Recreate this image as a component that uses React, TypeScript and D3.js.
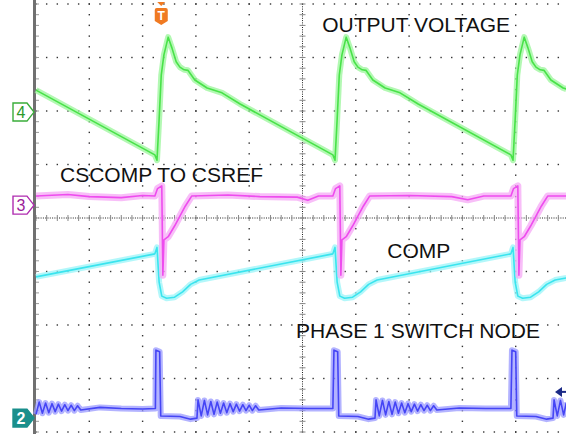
import React, { useEffect, useRef } from 'react';
import * as d3 from 'd3';

// scope screen: 10 x 8 divisions, points are [time div, level div]
const outputVoltage = [
  [0, 2.39], [2.23, 1.18], [2.27, 1.08], [2.31, 1.84], [2.35, 2.67], [2.40, 3.05], [2.48, 3.38],
  [2.55, 3.18], [2.63, 2.92], [2.70, 2.82], [2.78, 2.77], [2.85, 2.76], [2.98, 2.58], [3.21, 2.43],
  [3.49, 2.34], [3.83, 2.13], [5.57, 1.18], [5.61, 1.08], [5.65, 1.84], [5.69, 2.67], [5.74, 3.05],
  [5.82, 3.38], [5.89, 3.18], [5.97, 2.92], [6.04, 2.82], [6.12, 2.77], [6.19, 2.76], [6.32, 2.58],
  [6.55, 2.43], [6.83, 2.34], [7.17, 2.13], [8.91, 1.18], [8.95, 1.08], [8.99, 1.84], [9.03, 2.67],
  [9.08, 3.05], [9.16, 3.38], [9.23, 3.18], [9.31, 2.92], [9.38, 2.82], [9.46, 2.77], [9.53, 2.76],
  [9.66, 2.58], [9.89, 2.43], [9.95, 2.41],
];

const csCompToCsRef = [
  [0, 0.41], [0.6, 0.44], [1.0, 0.40], [1.6, 0.38], [2.0, 0.42], [2.23, 0.41], [2.28, 0.55],
  [2.36, 0.60], [2.38, -1.07], [2.40, -0.41], [2.48, -0.35], [2.60, -0.15],
  [2.80, 0.22], [2.92, 0.41], [3.6, 0.43], [4.2, 0.40], [4.9, 0.39], [5.1, 0.33], [5.3, 0.41],
  [5.57, 0.41], [5.62, 0.55], [5.70, 0.60], [5.72, -1.07], [5.74, -0.41],
  [5.82, -0.35], [5.94, -0.15], [6.14, 0.22], [6.26, 0.41], [7.0, 0.42], [7.8, 0.40], [8.1, 0.34],
  [8.4, 0.41], [8.91, 0.41], [8.96, 0.55], [9.04, 0.60], [9.06, -1.07], [9.08, -0.41],
  [9.16, -0.35], [9.28, -0.15], [9.48, 0.22], [9.60, 0.41], [9.95, 0.41],
];

const compVoltage = [
  [0, -1.10], [2.23, -0.67], [2.27, -0.55], [2.31, -1.20], [2.36, -1.46], [2.45, -1.50],
  [2.60, -1.48], [2.75, -1.38], [2.90, -1.24], [3.06, -1.16], [5.57, -0.67], [5.61, -0.55],
  [5.65, -1.20], [5.70, -1.46], [5.79, -1.50], [5.94, -1.48], [6.09, -1.38], [6.24, -1.24],
  [6.40, -1.16], [8.91, -0.67], [8.95, -0.55], [8.99, -1.20], [9.04, -1.46], [9.13, -1.50],
  [9.28, -1.48], [9.43, -1.38], [9.58, -1.24], [9.74, -1.16], [9.95, -1.12],
];

const phase1SwitchNode = [
  [0.00, -3.67], [0.06, -3.44], [0.12, -3.65], [0.18, -3.46], [0.24, -3.64], [0.30, -3.47],
  [0.36, -3.62], [0.42, -3.48], [0.48, -3.61], [0.54, -3.49], [0.60, -3.60], [0.66, -3.50],
  [0.72, -3.60], [0.78, -3.51], [0.84, -3.59], [1.20, -3.54], [1.60, -3.56], [2.00, -3.57],
  [2.24, -3.56], [2.25, -2.47], [2.32, -2.50], [2.34, -3.70], [2.70, -3.71], [2.90, -3.76],
  [3.02, -3.74], [3.04, -3.40], [3.10, -3.70], [3.16, -3.41], [3.22, -3.68], [3.28, -3.43],
  [3.34, -3.67], [3.40, -3.44], [3.46, -3.65], [3.52, -3.46], [3.58, -3.64], [3.64, -3.47],
  [3.70, -3.62], [3.76, -3.48], [3.82, -3.61], [3.88, -3.49], [3.94, -3.60], [4.00, -3.50],
  [4.06, -3.60], [4.12, -3.51], [4.18, -3.59], [4.60, -3.55], [5.10, -3.56], [5.57, -3.56],
  [5.59, -2.47], [5.66, -2.50], [5.68, -3.70], [6.04, -3.71], [6.24, -3.76], [6.36, -3.74],
  [6.38, -3.40], [6.44, -3.70], [6.50, -3.41], [6.56, -3.68], [6.62, -3.43], [6.68, -3.67],
  [6.74, -3.44], [6.80, -3.65], [6.86, -3.46], [6.92, -3.64], [6.98, -3.47], [7.04, -3.62],
  [7.10, -3.48], [7.16, -3.61], [7.22, -3.49], [7.28, -3.60], [7.34, -3.50], [7.40, -3.60],
  [7.46, -3.51], [7.52, -3.59], [7.94, -3.55], [8.44, -3.56], [8.91, -3.56], [8.93, -2.47],
  [9.00, -2.50], [9.02, -3.70], [9.38, -3.71], [9.58, -3.76], [9.70, -3.74], [9.72, -3.40],
  [9.78, -3.70], [9.84, -3.41], [9.90, -3.68], [9.95, -3.45],
];

const traceNames = ['OUTPUT VOLTAGE', 'CSCOMP TO CSREF', 'COMP', 'PHASE 1 SWITCH NODE'];
const channelNames = ['4', '3', '2'];
const channelLevels = [1.98, 0.24, -3.74];
const triggerTime = 2.35;
const triggerLevel = -3.25;

const App = () => {
  const chartRef = useRef(null);

  useEffect(() => {
    const svg = d3.select(chartRef.current);
    svg.selectAll('*').remove();

    const x = d3.scaleLinear().domain([0, 10]).range([36, 569]);
    const y = d3.scaleLinear().domain([4, -4]).range([4, 432]);

    svg.append('rect').attr('width', 566).attr('height', 434).attr('fill', '#fff');

    // graticule dots
    const grid = svg.append('g');
    const minorT = d3.range(0, 10.01, 0.2);
    const minorV = d3.range(-4, 4.01, 0.2);
    [1, 2, 3, 4, 6, 7, 8, 9].forEach(i => {
      minorV.forEach(v => {
        grid.append('rect').attr('x', x(i) - 0.7).attr('y', y(v) - 0.7)
          .attr('width', 1.4).attr('height', 1.4).attr('fill', '#333');
      });
    });
    [-4, -3, -2, -1, 1, 2, 3, 4].forEach(k => {
      minorT.forEach(t => {
        grid.append('rect').attr('x', x(t) - 0.7).attr('y', y(k) - 0.7)
          .attr('width', 1.4).attr('height', 1.4).attr('fill', '#333');
      });
    });

    // centre axes with ticks
    grid.append('line').attr('x1', x(0)).attr('x2', x(10)).attr('y1', y(0)).attr('y2', y(0))
      .attr('stroke', '#222').attr('stroke-dasharray', '1,1.3');
    grid.append('line').attr('x1', x(5)).attr('x2', x(5)).attr('y1', y(4)).attr('y2', y(-4))
      .attr('stroke', '#222').attr('stroke-dasharray', '1,1.3');
    minorT.forEach(t => {
      grid.append('line').attr('x1', x(t)).attr('x2', x(t)).attr('y1', y(0) - 3).attr('y2', y(0) + 3)
        .attr('stroke', '#888');
    });
    minorV.forEach(v => {
      grid.append('line').attr('x1', x(5) - 3).attr('x2', x(5) + 3).attr('y1', y(v)).attr('y2', y(v))
        .attr('stroke', '#888');
      grid.append('line').attr('x1', x(0)).attr('x2', x(0) + 3).attr('y1', y(v)).attr('y2', y(v))
        .attr('stroke', '#999');
    });

    // left edge bar
    svg.append('rect').attr('x', x(0) - 3).attr('y', 0).attr('width', 3).attr('height', 434)
      .attr('fill', '#707070');

    const line = d3.line().x(d => x(d[0])).y(d => y(d[1]));

    const traces = [
      { data: phase1SwitchNode, band: '#9a9aff', core: '#4545f5', w: 6 },
      { data: compVoltage, band: '#9af4f8', core: '#3ae4ee', w: 6 },
      { data: csCompToCsRef, band: '#f6a8f6', core: '#ee4cee', w: 7 },
      { data: outputVoltage, band: '#9af59a', core: '#48e248', w: 6 },
    ];
    traces.forEach(tr => {
      svg.append('path').attr('d', line(tr.data)).attr('fill', 'none')
        .attr('stroke', tr.band).attr('stroke-width', tr.w).attr('stroke-linejoin', 'round')
        .attr('stroke-opacity', 0.75);
      svg.append('path').attr('d', line(tr.data)).attr('fill', 'none')
        .attr('stroke', tr.core).attr('stroke-width', 1.6).attr('stroke-linejoin', 'round');
    });

    // trace labels
    const labelPos = [[5.37, 3.48], [0.45, 0.67], [6.59, -0.75], [4.88, -2.24]];
    traceNames.forEach((name, i) => {
      svg.append('text').attr('x', x(labelPos[i][0])).attr('y', y(labelPos[i][1]))
        .attr('font-family', '"Liberation Sans", Arial, Helvetica, sans-serif')
        .attr('font-size', 21).attr('fill', '#111').text(name);
    });

    // channel markers
    const markerStyle = [
      { stroke: '#3aad3a', fill: '#fff', text: '#2a9a2a' },
      { stroke: '#b02cb0', fill: '#fff', text: '#9a1c9a' },
      { stroke: '#1a8f8c', fill: '#1a8f8c', text: '#fff' },
    ];
    channelNames.forEach((name, i) => {
      const cy = y(channelLevels[i]);
      const st = markerStyle[i];
      svg.append('path')
        .attr('d', `M13,${cy - 9} H27 L34,${cy} L27,${cy + 9} H13 Z`)
        .attr('fill', st.fill).attr('stroke', st.stroke).attr('stroke-width', 1.4);
      svg.append('text').attr('x', 21).attr('y', cy + 6).attr('text-anchor', 'middle')
        .attr('font-family', '"Liberation Sans", Arial, sans-serif')
        .attr('font-size', 16).attr('font-weight', i === 2 ? 'bold' : 'normal')
        .attr('fill', st.text).text(name);
    });

    // trigger marker
    const tx = x(triggerTime);
    svg.append('path').attr('d', `M${tx - 4},2 H${tx + 4} L${tx},6 Z`).attr('fill', '#f07a22');
    svg.append('path')
      .attr('d', `M${tx - 6.5},10 Q${tx - 6.5},8 ${tx - 4.5},8 H${tx + 4.5} Q${tx + 6.5},8 ${tx + 6.5},10 V21 L${tx},25 L${tx - 6.5},21 Z`)
      .attr('fill', '#f07a22');
    svg.append('text').attr('x', tx).attr('y', 20).attr('text-anchor', 'middle')
      .attr('font-family', '"Liberation Sans", Arial, sans-serif').attr('font-weight', 'bold')
      .attr('font-size', 12).attr('fill', '#fff').text('T');

    // trigger level arrow
    const ty = y(triggerLevel);
    svg.append('path').attr('d', `M555,${ty} L562,${ty - 5} V${ty + 5} Z`).attr('fill', '#1b2a86');
    svg.append('line').attr('x1', 560).attr('x2', 566).attr('y1', ty).attr('y2', ty)
      .attr('stroke', '#1b2a86').attr('stroke-width', 2);
  }, []);

  return (
    <svg ref={chartRef} width={566} height={434}
      style={{ position: 'absolute', left: 0, top: 0, display: 'block' }} />
  );
};

export default App;
